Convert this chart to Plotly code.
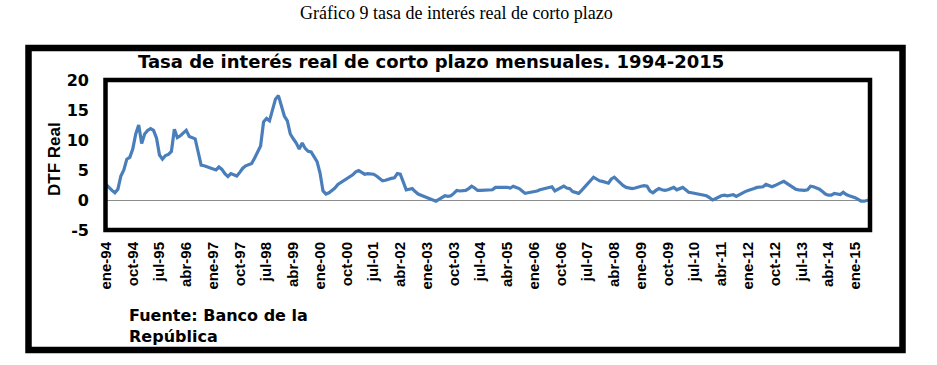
import plotly.graph_objects as go

# Monthly real short-term interest rate (DTF real), ene-94 .. jun-15
DTF_REAL = [
    2.6, 2.0, 1.6, 1.2, 1.8, 4.0, 5.0, 6.8, 7.1, 8.5, 11.0, 12.5,
    9.4, 11.0, 11.6, 11.9, 11.6, 10.3, 7.5, 6.8, 7.4, 7.6, 8.1, 11.8,
    10.4, 10.7, 11.2, 11.6, 10.6, 10.4, 10.2, 8.0, 5.8, 5.7, 5.5, 5.4,
    5.1, 5.0, 5.5, 5.1, 4.4, 3.9, 4.4, 4.2, 4.0, 4.6, 5.3, 5.7,
    5.9, 6.1, 7.0, 8.0, 9.0, 13.0, 13.6, 13.2, 15.2, 16.8, 17.4, 15.5,
    14.0, 13.2, 11.0, 10.2, 9.5, 8.5, 9.5, 8.6, 8.1, 8.0, 7.3, 6.4,
    4.5, 1.5, 1.0, 1.2, 1.6, 2.0, 2.6, 2.9, 3.3, 3.6, 3.9, 4.2,
    4.7, 4.9, 4.6, 4.3, 4.4, 4.3, 4.3, 4.0, 3.6, 3.2, 3.3, 3.5,
    3.6, 3.7, 4.4, 4.3, 2.8, 1.7, 1.8, 1.9, 1.4, 1.0, 0.8, 0.6,
    0.5, 0.3, 0.1, -0.2, 0.1, 0.4, 0.7, 0.6, 0.7, 1.1, 1.6, 1.5,
    1.5, 1.6, 1.9, 2.3, 2.0, 1.6, 1.6, 1.6, 1.6, 1.7, 1.7, 2.1,
    2.1, 2.2, 2.2, 2.1, 2.0, 2.3, 2.1, 1.9, 1.5, 1.1, 1.2, 1.3,
    1.3, 1.5, 1.7, 1.8, 1.9, 2.0, 2.2, 1.5, 1.8, 2.1, 2.3, 2.0,
    1.9, 1.4, 1.2, 1.1, 1.6, 2.2, 2.8, 3.4, 3.8, 3.5, 3.2, 3.1,
    3.0, 2.8, 3.5, 3.8, 3.3, 2.8, 2.4, 2.1, 2.0, 1.9, 2.0, 2.2,
    2.3, 2.4, 2.3, 1.5, 1.2, 1.6, 1.9, 1.7, 1.6, 1.7, 1.9, 2.1,
    1.7, 1.9, 2.1, 1.7, 1.3, 1.2, 1.1, 1.0, 0.9, 0.9, 0.7, 0.4,
    0.0, 0.2, 0.5, 0.7, 0.8, 0.7, 0.8, 0.9, 0.6, 0.9, 1.2, 1.4,
    1.6, 1.7, 1.9, 2.1, 2.1, 2.2, 2.6, 2.4, 2.2, 2.4, 2.7, 2.9,
    3.1, 2.8, 2.5, 2.1, 1.8, 1.7, 1.6, 1.6, 1.7, 2.3, 2.2, 2.0,
    1.8, 1.4, 1.0, 0.8, 0.8, 1.1, 1.0, 0.9, 1.3, 0.9, 0.7, 0.6,
    0.4, 0.1, -0.2, -0.2, -0.1, 0.05,
]
MONTH_INDEX = list(range(len(DTF_REAL)))

TICK_POSITIONS = [0, 9, 18, 27, 36, 45, 54, 63, 72, 81, 90, 99, 108, 117, 126,
                  135, 144, 153, 162, 171, 180, 189, 198, 207, 216, 225, 234, 243, 252]
TICK_LABELS = ["ene-94", "oct-94", "jul-95", "abr-96", "ene-97", "oct-97", "jul-98",
               "abr-99", "ene-00", "oct-00", "jul-01", "abr-02", "ene-03", "oct-03",
               "jul-04", "abr-05", "ene-06", "oct-06", "jul-07", "abr-08", "ene-09",
               "oct-09", "jul-10", "abr-11", "ene-12", "oct-12", "jul-13", "abr-14",
               "ene-15"]
Y_TICKS = [-5, 0, 5, 10, 15, 20]

W, H = 937, 365
L, R, T, B = 106, 67, 80, 135
PW, PH = W - L - R, H - T - B


def px_x(x):
    return (x - L) / PW


def px_y(y):
    return (H - B - y) / PH


fig = go.Figure()
fig.add_trace(go.Scatter(
    x=MONTH_INDEX, y=DTF_REAL, mode="lines",
    line=dict(color="#4A7EBB", width=3.2),
    hoverinfo="skip", showlegend=False,
))

bold = dict(family="Arial, Liberation Sans, sans-serif", color="black")
wide = dict(family="DejaVu Sans, sans-serif", color="black")

fig.update_layout(
    width=W, height=H,
    margin=dict(l=L, r=R, t=T, b=B),
    paper_bgcolor="white", plot_bgcolor="white",
    showlegend=False,
    xaxis=dict(
        range=[0, len(DTF_REAL) - 1],
        tickmode="array", tickvals=TICK_POSITIONS, ticktext=[f"<b>{t}</b>" for t in TICK_LABELS],
        tickangle=-90, tickfont=dict(size=15, **bold),
        showgrid=False, zeroline=False, showline=False, ticks="",
        ticklabelstandoff=8,
    ),
    yaxis=dict(
        range=[-5, 20], tickmode="array", tickvals=Y_TICKS,
        ticktext=[f"<b>{v}</b>" for v in Y_TICKS],
        tickfont=dict(size=16, **wide),
        showgrid=False, zeroline=True, zerolinecolor="#8c8c8c", zerolinewidth=1,
        showline=False, ticks="", ticklabelstandoff=16,
    ),
    shapes=[
        # inner plot frame
        dict(type="rect", xref="paper", yref="paper", x0=px_x(105.5), x1=px_x(870),
             y0=px_y(230), y1=px_y(80), line=dict(color="black", width=4.5), layer="above"),
        # outer chart frame
        dict(type="rect", xref="paper", yref="paper", x0=px_x(28.5), x1=px_x(902.5),
             y0=px_y(350), y1=px_y(48), line=dict(color="black", width=6.5), layer="above"),
    ],
    annotations=[
        dict(text="Gráfico 9 tasa de interés real de corto plazo", xref="paper", yref="paper",
             x=px_x(456), y=px_y(13), xanchor="center", yanchor="middle", showarrow=False,
             font=dict(family="Liberation Serif, Times New Roman, serif", size=18, color="black")),
        dict(text="<b>Tasa de interés real de corto plazo mensuales. 1994-2015</b>",
             xref="paper", yref="paper", x=px_x(431), y=px_y(62), xanchor="center",
             yanchor="middle", showarrow=False, font=dict(size=18, **wide)),
        dict(text="<b>DTF Real</b>", xref="paper", yref="paper", x=px_x(54), y=px_y(159),
             xanchor="center", yanchor="middle", textangle=-90, showarrow=False,
             font=dict(size=17, **bold)),
        dict(text="<b>Fuente: Banco de la<br>República</b>", xref="paper", yref="paper",
             x=px_x(127), y=px_y(304), xanchor="left", yanchor="top", align="left",
             showarrow=False, font=dict(size=16, **wide)),
    ],
)

fig.write_html("out.html", config={"displayModeBar": False},
               post_script="document.body.style.margin='0';")
